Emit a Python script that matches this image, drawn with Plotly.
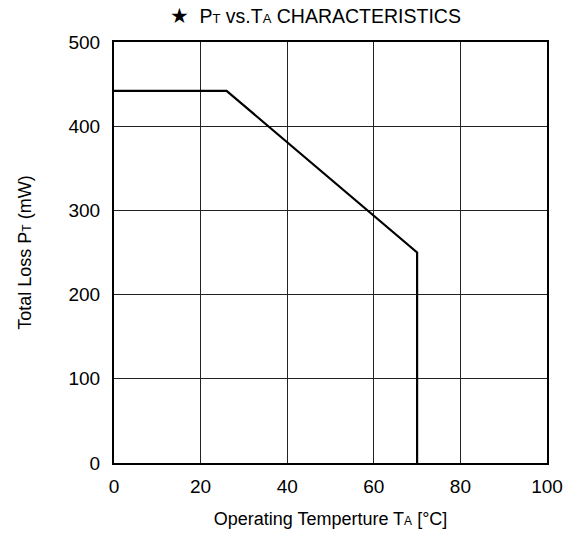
import plotly.graph_objects as go

# Derating curve: total loss vs. operating temperature
temp_c = [0, 26, 70, 70]
loss_mw = [442, 442, 250, 0]

x_ticks = [0, 20, 40, 60, 80, 100]
y_ticks = [0, 100, 200, 300, 400, 500]

FONT = "Liberation Sans, Arial, sans-serif"

fig = go.Figure()
fig.add_trace(go.Scatter(
    x=temp_c, y=loss_mw, mode="lines",
    line=dict(color="black", width=2.2),
    showlegend=False, hoverinfo="skip",
))

fig.update_layout(
    width=566, height=540,
    margin=dict(l=114, r=19, t=42, b=77, autoexpand=False),
    paper_bgcolor="white", plot_bgcolor="white",
    font=dict(family=FONT, color="black", size=19),
    title=dict(
        text="<span style='font-size:21px'>★</span>  P<span style='font-size:13px'>T</span> vs.T<span style='font-size:13px'>A</span> CHARACTERISTICS",
        x=0.557, xanchor="center", y=0.97, yanchor="middle",
        font=dict(size=19.5, family=FONT, color="black"),
    ),
)

fig.update_xaxes(
    range=[0, 100], tickvals=x_ticks, ticks="", ticklen=0,
    showgrid=True, gridcolor="#222222", gridwidth=1,
    showline=True, linecolor="black", linewidth=2, mirror=True,
    zeroline=False, tickfont=dict(size=19), automargin=False,
    ticklabelstandoff=5,
    title=dict(text="Operating Temperture T<span style='font-size:12px'>A</span> [°C]",
               font=dict(size=18), standoff=17),
)
fig.update_yaxes(
    range=[0, 500], tickvals=y_ticks, ticks="", ticklen=0,
    showgrid=True, gridcolor="#222222", gridwidth=1,
    showline=True, linecolor="black", linewidth=2, mirror=True,
    zeroline=False, tickfont=dict(size=19), automargin=False,
    ticklabelstandoff=8,
    title=dict(text="Total Loss P<span style='font-size:12px'>T</span> (mW)",
               font=dict(size=18), standoff=32),
)

fig.write_html("out.html")
